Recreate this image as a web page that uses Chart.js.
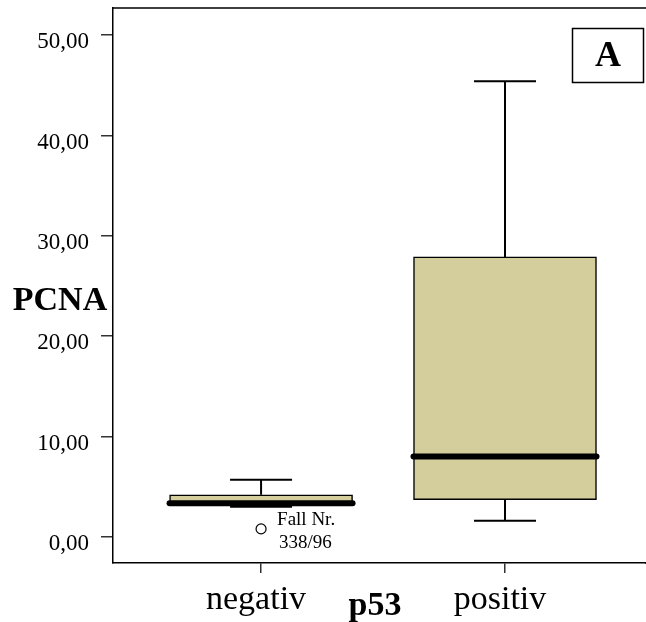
<!DOCTYPE html>
<html>
<head>
<meta charset="utf-8">
<script src="https://cdn.jsdelivr.net/npm/chart.js@4/dist/chart.umd.min.js"></script>
<style>
    html, body { margin: 0; padding: 0; background: #fff; }
    #wrap { width: 646px; height: 622px; }
</style>
</head>
<body>
<div id="wrap"><canvas id="box-chart" width="646" height="622"></canvas></div>
<script>
// ─── Daten ─────────────────────────────────────────────────────────────────
const categories   = ['negativ', 'positiv'];
const whiskerLow   = [3.0, 1.6];
const quartile1    = [3.3, 3.7];
const medians      = [3.35, 8.0];
const quartile3    = [4.2, 27.9];
const whiskerHigh  = [5.7, 45.4];
const outlierCat   = [0];
const outlierVal   = [0.8];
const outlierLabel = [['Fall Nr.', '338/96']];
const yTicks       = [0, 10, 20, 30, 40, 50];

const SERIF = '"Liberation Serif", "Times New Roman", serif';
const BOX_FILL = '#D3CE9B';

// Whisker, Mediane und Beschriftungen über die Skalen zeichnen
const boxExtras = {
    id: 'boxExtras',
    afterDatasetsDraw(chart) {
        const ctx = chart.ctx;
        const x = chart.scales.x;
        const y = chart.scales.y;
        const area = chart.chartArea;

        ctx.save();
        // Rahmen oben (und unten bis zum Bildrand)
        ctx.strokeStyle = '#000';
        ctx.lineWidth = 1.5;
        ctx.beginPath();
        ctx.moveTo(area.left, area.top);
        ctx.lineTo(646, area.top);
        ctx.moveTo(area.right - 1, area.bottom);
        ctx.lineTo(646, area.bottom);
        ctx.stroke();

        categories.forEach((c, i) => {
            const cx = x.getPixelForValue(i + 1);
            const capHalf = 31;
            const boxHalf = 91.5;

            // Whisker
            ctx.strokeStyle = '#000';
            ctx.lineWidth = 2;
            ctx.lineCap = 'butt';
            ctx.beginPath();
            ctx.moveTo(cx, y.getPixelForValue(quartile3[i]));
            ctx.lineTo(cx, y.getPixelForValue(whiskerHigh[i]));
            ctx.moveTo(cx - capHalf, y.getPixelForValue(whiskerHigh[i]));
            ctx.lineTo(cx + capHalf, y.getPixelForValue(whiskerHigh[i]));
            ctx.moveTo(cx, y.getPixelForValue(quartile1[i]));
            ctx.lineTo(cx, y.getPixelForValue(whiskerLow[i]));
            ctx.moveTo(cx - capHalf, y.getPixelForValue(whiskerLow[i]));
            ctx.lineTo(cx + capHalf, y.getPixelForValue(whiskerLow[i]));
            ctx.stroke();

            // Median
            ctx.lineWidth = 6;
            ctx.lineCap = 'round';
            ctx.beginPath();
            ctx.moveTo(cx - boxHalf, y.getPixelForValue(medians[i]));
            ctx.lineTo(cx + boxHalf, y.getPixelForValue(medians[i]));
            ctx.stroke();
        });

        // Ausreißer-Beschriftung
        ctx.fillStyle = '#000';
        ctx.font = '19px ' + SERIF;
        ctx.textAlign = 'left';
        ctx.textBaseline = 'middle';
        outlierCat.forEach((c, i) => {
            const px = x.getPixelForValue(c + 1);
            const py = y.getPixelForValue(outlierVal[i]);
            ctx.fillText(outlierLabel[i][0], px + 16, py - 9);
            ctx.fillText(outlierLabel[i][1], px + 18, py + 14);
        });

        // Achsentitel
        ctx.font = 'bold 34px ' + SERIF;
        ctx.textAlign = 'center';
        ctx.fillText('PCNA', 60, 301);
        ctx.fillText('p53', 375, 606);

        // Feldbezeichnung "A"
        ctx.lineWidth = 1.5;
        ctx.strokeRect(572.5, 28.5, 71, 54);
        ctx.font = 'bold 36px ' + SERIF;
        ctx.fillText('A', 608, 57);
        ctx.restore();
    }
};

// Überstand der Beschriftungen nicht in das Layout einrechnen
function noPadding(s) {
    s.paddingTop = 0;
    s.paddingBottom = 0;
    s.paddingLeft = 0;
    s.paddingRight = 0;
}

new Chart(document.getElementById('box-chart'), {
    type: 'bar',
    data: {
        datasets: [
            {
                type: 'scatter',
                data: outlierCat.map((c, i) => ({ x: c + 1, y: outlierVal[i] })),
                pointStyle: 'circle',
                pointRadius: 5,
                pointBackgroundColor: '#fff',
                pointBorderColor: '#000',
                pointBorderWidth: 1.2
            },
            {
                data: categories.map((c, i) => ({ x: i + 1, y: [quartile1[i], quartile3[i]] })),
                backgroundColor: BOX_FILL,
                borderColor: '#000',
                borderWidth: 1.5,
                borderSkipped: false,
                barThickness: 183
            }
        ]
    },
    options: {
        responsive: false,
        animation: false,
        events: [],
        layout: { autoPadding: false, padding: { top: 8, right: 0, left: 0, bottom: 0 } },
        plugins: {
            legend: { display: false },
            tooltip: { enabled: false }
        },
        scales: {
            x: {
                type: 'linear',
                min: 0.393,
                max: 2.578,
                offset: false,
                afterBuildTicks: s => { s.ticks = categories.map((c, i) => ({ value: i + 1 })); },
                afterFit: s => { s.height = 59; noPadding(s); },
                ticks: {
                    callback: v => categories[v - 1] || '',
                    color: '#000',
                    font: { family: SERIF, size: 34 },
                    padding: 7,
                    labelOffset: -5,
                    maxRotation: 0
                },
                grid: { offset: false, drawOnChartArea: false, tickLength: 10, color: '#333', lineWidth: 1.5 },
                border: { display: true, color: '#000', width: 1.5 }
            },
            y: {
                min: -2.6,
                max: 52.7,
                afterBuildTicks: s => { s.ticks = yTicks.map(v => ({ value: v })); },
                afterFit: s => { s.width = 113; noPadding(s); },
                ticks: {
                    callback: v => v.toFixed(2).replace('.', ','),
                    color: '#000',
                    font: { family: SERIF, size: 23 },
                    padding: 12,
                    labelOffset: 7
                },
                grid: { drawOnChartArea: false, tickLength: 12, color: '#333', lineWidth: 1.5 },
                border: { display: true, color: '#000', width: 1.5 }
            }
        }
    },
    plugins: [boxExtras]
});
</script>
</body>
</html>
